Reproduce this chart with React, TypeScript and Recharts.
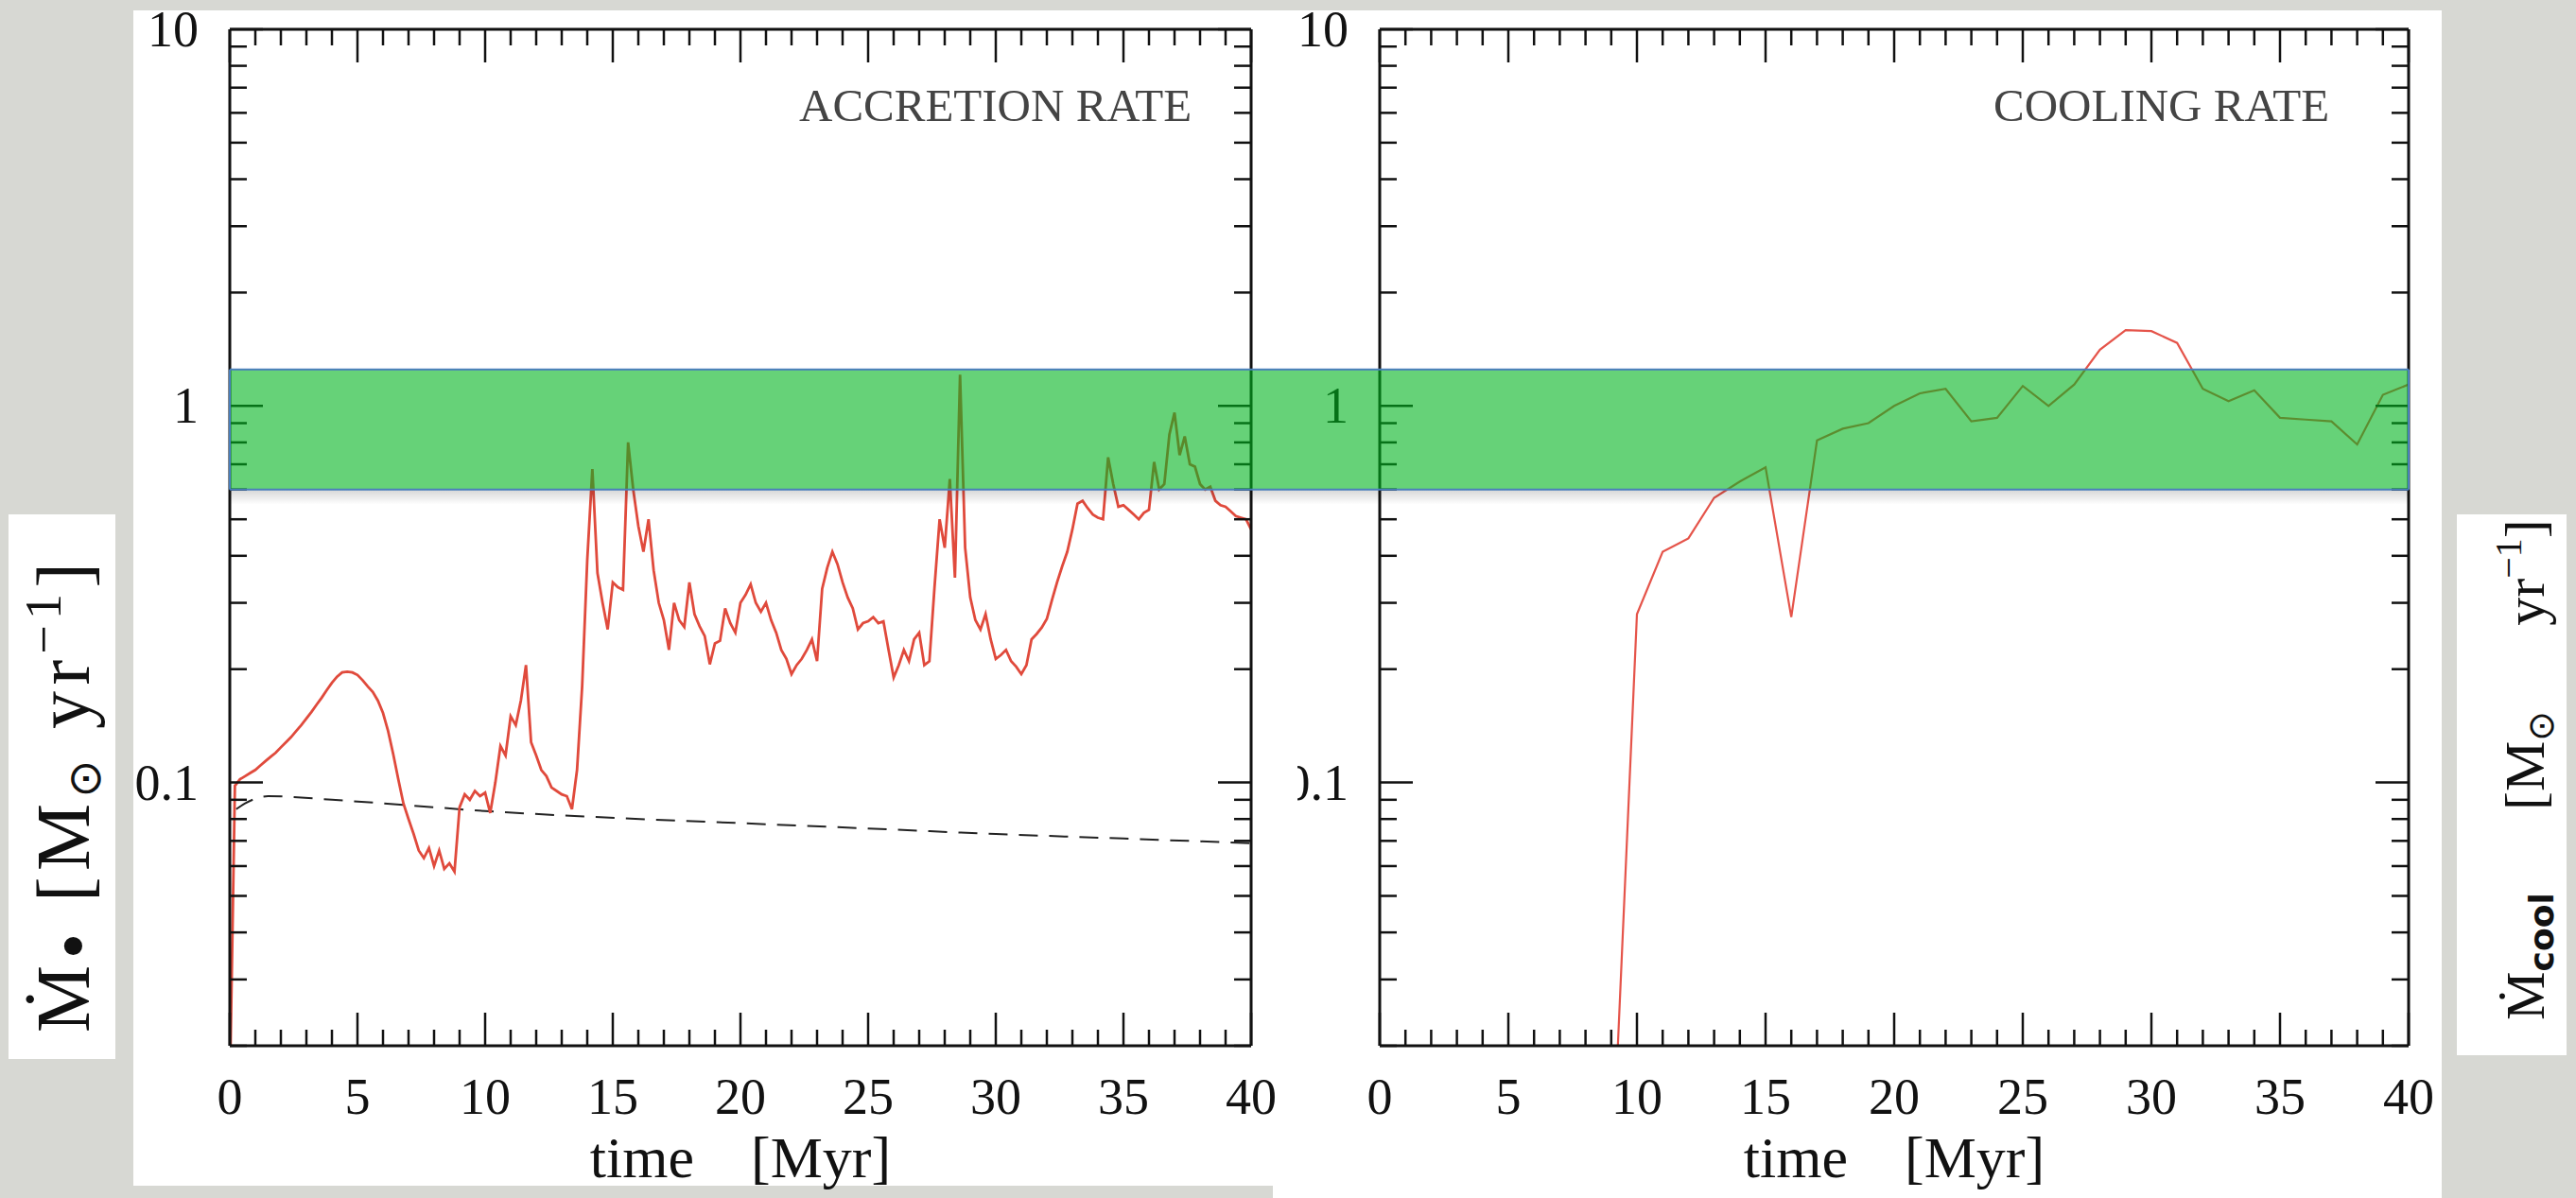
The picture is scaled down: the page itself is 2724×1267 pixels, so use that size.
import React from 'react';
import { LineChart, Line, XAxis, YAxis, ReferenceArea } from 'recharts';

// axis ticks
const xTicks = [0, 1, 2, 3, 4, 5, 6, 7, 8, 9, 10, 11, 12, 13, 14, 15, 16, 17, 18, 19, 20, 21, 22, 23, 24, 25, 26, 27, 28, 29, 30, 31, 32, 33, 34, 35, 36, 37, 38, 39, 40];
const xLabelTicks = [0, 5, 10, 15, 20, 25, 30, 35, 40];
const yTicks = [0.02, 0.03, 0.04, 0.05, 0.06, 0.07, 0.08, 0.09, 0.1, 0.2, 0.3, 0.4, 0.5, 0.6, 0.7, 0.8, 0.9, 1, 2, 3, 4, 5, 6, 7, 8, 9, 10];
const yLabelTicks = [0.1, 1, 10];
const yLabelText = ['0.1', '1', '10'];

// accretion rate (left panel), Msun/yr
const accTime = [
  0, 0.2, 0.4, 0.6, 0.8, 1, 1.2, 1.4, 1.6, 1.8,
  2, 2.2, 2.4, 2.6, 2.8, 3, 3.2, 3.4, 3.6, 3.8,
  4, 4.2, 4.4, 4.6, 4.8, 5, 5.2, 5.4, 5.6, 5.8,
  6, 6.2, 6.4, 6.6, 6.8, 7, 7.2, 7.4, 7.6, 7.8,
  8, 8.2, 8.4, 8.6, 8.8, 9, 9.2, 9.4, 9.6, 9.8,
  10, 10.2, 10.4, 10.6, 10.8, 11, 11.2, 11.4, 11.6, 11.8,
  12, 12.2, 12.4, 12.6, 12.8, 13, 13.2, 13.4, 13.6, 13.8,
  14, 14.2, 14.4, 14.6, 14.8, 15, 15.2, 15.4, 15.6, 15.8,
  16, 16.2, 16.4, 16.6, 16.8, 17, 17.2, 17.4, 17.6, 17.8,
  18, 18.2, 18.4, 18.6, 18.8, 19, 19.2, 19.4, 19.6, 19.8,
  20, 20.2, 20.4, 20.6, 20.8, 21, 21.2, 21.4, 21.6, 21.8,
  22, 22.2, 22.4, 22.6, 22.8, 23, 23.2, 23.4, 23.6, 23.8,
  24, 24.2, 24.4, 24.6, 24.8, 25, 25.2, 25.4, 25.6, 25.8,
  26, 26.2, 26.4, 26.6, 26.8, 27, 27.2, 27.4, 27.6, 27.8,
  28, 28.2, 28.4, 28.6, 28.8, 29, 29.2, 29.4, 29.6, 29.8,
  30, 30.2, 30.4, 30.6, 30.8, 31, 31.2, 31.4, 31.6, 31.8,
  32, 32.2, 32.4, 32.6, 32.8, 33, 33.2, 33.4, 33.6, 33.8,
  34, 34.2, 34.4, 34.6, 34.8, 35, 35.2, 35.4, 35.6, 35.8,
  36, 36.2, 36.4, 36.6, 36.8, 37, 37.2, 37.4, 37.6, 37.8,
  38, 38.2, 38.4, 38.6, 38.8, 39, 39.2, 39.4, 39.6, 39.8,
  40,
];
const accRate = [
  0.015, 0.098, 0.102, 0.104, 0.106, 0.108, 0.111, 0.114, 0.117, 0.12,
  0.124, 0.128, 0.132, 0.137, 0.142, 0.148, 0.154, 0.161, 0.168, 0.176,
  0.184, 0.191, 0.196, 0.197, 0.196, 0.193, 0.187, 0.18, 0.174, 0.165,
  0.153, 0.137, 0.119, 0.102, 0.088, 0.08, 0.073, 0.066, 0.063, 0.067,
  0.06, 0.066, 0.059, 0.061, 0.058, 0.086, 0.093, 0.09, 0.095, 0.092,
  0.094, 0.083, 0.1, 0.125, 0.118, 0.15, 0.142, 0.165, 0.205, 0.128,
  0.118, 0.108, 0.104, 0.097, 0.095, 0.093, 0.092, 0.085, 0.108, 0.18,
  0.39, 0.68, 0.36, 0.3, 0.255, 0.34, 0.33, 0.325, 0.8, 0.6,
  0.48, 0.41, 0.5, 0.366, 0.3, 0.27, 0.225, 0.3, 0.27, 0.259,
  0.34, 0.28, 0.26, 0.245, 0.206, 0.234, 0.238, 0.29, 0.265, 0.25,
  0.3, 0.315, 0.336, 0.3, 0.284, 0.3, 0.27, 0.25, 0.225, 0.213,
  0.194, 0.205, 0.213, 0.225, 0.24, 0.21, 0.327, 0.372, 0.41, 0.38,
  0.34, 0.31, 0.29, 0.255, 0.265, 0.268, 0.275, 0.265, 0.268, 0.225,
  0.19, 0.205, 0.225, 0.21, 0.24, 0.25, 0.205, 0.21, 0.33, 0.5,
  0.42, 0.64, 0.35, 1.21, 0.42, 0.31, 0.27, 0.255, 0.28, 0.24,
  0.213, 0.218, 0.225, 0.21, 0.203, 0.194, 0.205, 0.24, 0.248, 0.258,
  0.272, 0.305, 0.34, 0.375, 0.41, 0.47, 0.55, 0.56, 0.535, 0.515,
  0.505, 0.5, 0.73, 0.62, 0.54, 0.545, 0.53, 0.515, 0.5, 0.52,
  0.53, 0.71, 0.6, 0.62, 0.84, 0.96, 0.74, 0.83, 0.7, 0.69,
  0.62, 0.6, 0.61, 0.56, 0.545, 0.54, 0.525, 0.51, 0.505, 0.5,
  0.47,
];

// dashed reference curve (left panel)
const dashTime = [0.25, 0.6, 1.5, 4, 7, 10, 13.5, 20, 25, 30, 35, 40];
const dashRate = [0.085, 0.088, 0.092, 0.09, 0.087, 0.084, 0.0815, 0.078, 0.0755, 0.073, 0.071, 0.069];

// cooling rate (right panel)
const coolTime = [9, 10, 11, 12, 13, 14, 15, 16, 17, 18, 19, 20, 21, 22, 23, 24, 25, 26, 27, 28, 29, 30, 31, 32, 33, 34, 35, 36, 37, 38, 39, 40];
const coolRate = [0.008, 0.28, 0.41, 0.445, 0.57, 0.63, 0.687, 0.275, 0.81, 0.87, 0.9, 1.0, 1.08, 1.11, 0.91, 0.93, 1.13, 1.0, 1.14, 1.41, 1.59, 1.58, 1.47, 1.11, 1.03, 1.1, 0.93, 0.92, 0.91, 0.79, 1.07, 1.14];

// highlighted band
const bandRange = [0.6, 1.25];

const panelTitles = ['ACCRETION RATE', 'COOLING RATE'];

const accData = accTime.map((t, i) => ({ t, v: accRate[i] }));
const dashData = dashTime.map((t, i) => ({ t, v: dashRate[i] }));
const coolData = coolTime.map((t, i) => ({ t, v: coolRate[i] }));

const serif = '"Liberation Serif", "Times New Roman", "DejaVu Serif", serif';
const ink = '#111';
const axisLine = { stroke: ink, strokeWidth: 3 };

const bottomTick = (props: any) => {
  const { x, y, payload } = props;
  const major = xLabelTicks.includes(payload.value);
  return (
    <g>
      <line x1={x} y1={y} x2={x} y2={y - (major ? 35 : 17)} stroke={ink} strokeWidth={2.5} />
      {major && (
        <text x={x} y={y + 72} textAnchor="middle" fontSize={54} fontFamily={serif} fill={ink}>
          {payload.value}
        </text>
      )}
    </g>
  );
};

const topTick = (props: any) => {
  const { x, y, payload } = props;
  const major = xLabelTicks.includes(payload.value);
  return <line x1={x} y1={y} x2={x} y2={y + (major ? 35 : 17)} stroke={ink} strokeWidth={2.5} />;
};

const leftTick = (props: any) => {
  const { x, y, payload } = props;
  const idx = yLabelTicks.indexOf(payload.value);
  const major = idx >= 0;
  return (
    <g>
      <line x1={x} y1={y} x2={x + (major ? 35 : 18)} y2={y} stroke={ink} strokeWidth={2.5} />
      {major && (
        <text x={x - 33} y={y + 18} textAnchor="end" fontSize={54} fontFamily={serif} fill={ink}>
          {yLabelText[idx]}
        </text>
      )}
    </g>
  );
};

const rightTick = (props: any) => {
  const { x, y, payload } = props;
  const major = yLabelTicks.includes(payload.value);
  return <line x1={x} y1={y} x2={x - (major ? 35 : 18)} y2={y} stroke={ink} strokeWidth={2.5} />;
};

const Band = (props: any) => {
  const { x, y, width, height, extendRight = 0, edge, id } = props;
  const w = width + extendRight;
  const edgeX = edge === 'left' ? x : x + w;
  return (
    <g>
      <defs>
        <linearGradient id={id} x1="0" y1="0" x2="0" y2="1">
          <stop offset="0" stopColor="#000" stopOpacity={0.16} />
          <stop offset="1" stopColor="#000" stopOpacity={0} />
        </linearGradient>
      </defs>
      <rect x={x} y={y + height} width={w} height={16} fill={`url(#${id})`} />
      <rect x={x} y={y} width={w} height={height} fill="#00b41e" fillOpacity={0.6} />
      <line x1={x} y1={y} x2={x + w} y2={y} stroke="#4a7ebb" strokeWidth={2} />
      <line x1={x} y1={y + height} x2={x + w} y2={y + height} stroke="#4a7ebb" strokeWidth={2} />
      <line x1={edgeX} y1={y} x2={edgeX} y2={y + height} stroke="#4a7ebb" strokeWidth={2} />
    </g>
  );
};

// frame: bottom + left carry labels, top + right only inward ticks
const chartAxes = (yWidth: number) => [
  <XAxis
    key="xb"
    dataKey="t"
    type="number"
    domain={[0, 40]}
    allowDataOverflow
    ticks={xTicks}
    interval={0}
    height={161}
    tickSize={0}
    tickMargin={0}
    tickLine={false}
    axisLine={axisLine}
    tick={bottomTick}
  />,
  <XAxis
    key="xt"
    xAxisId="top"
    orientation="top"
    dataKey="t"
    type="number"
    domain={[0, 40]}
    allowDataOverflow
    ticks={xTicks}
    interval={0}
    height={1}
    tickSize={0}
    tickMargin={0}
    tickLine={false}
    axisLine={axisLine}
    tick={topTick}
  />,
  <YAxis
    key="yl"
    type="number"
    scale="log"
    domain={[0.02, 10]}
    allowDataOverflow
    ticks={yTicks}
    interval={0}
    width={yWidth}
    tickSize={0}
    tickMargin={0}
    tickLine={false}
    axisLine={axisLine}
    tick={leftTick}
  />,
  <YAxis
    key="yr"
    yAxisId="right"
    orientation="right"
    type="number"
    scale="log"
    domain={[0.02, 10]}
    allowDataOverflow
    ticks={yTicks}
    interval={0}
    width={1}
    tickSize={0}
    tickMargin={0}
    tickLine={false}
    axisLine={axisLine}
    tick={rightTick}
  />,
];

const App = () => {
  return (
    <div
      style={{
        position: 'absolute',
        left: 0,
        top: 0,
        width: 2724,
        height: 1267,
        background: '#d7d8d3',
        overflow: 'hidden',
      }}
    >
      {/* white slide panels */}
      <div style={{ position: 'absolute', left: 141, top: 11, width: 1205, height: 1243, background: '#fff' }} />
      <div style={{ position: 'absolute', left: 1346, top: 11, width: 1236, height: 1256, background: '#fff' }} />

      {/* right panel: cooling rate */}
      <div style={{ position: 'absolute', left: 1372, top: 0, zIndex: 1 }}>
        <LineChart width={1210} height={1267} margin={{ top: 30, right: 34, bottom: 0, left: 0 }}>
          {chartAxes(87)}
          <Line
            data={coolData}
            dataKey="v"
            type="linear"
            stroke="#e5544a"
            strokeWidth={2.2}
            dot={false}
            isAnimationActive={false}
          />
          <ReferenceArea
            y1={bandRange[0]}
            y2={bandRange[1]}
            ifOverflow="visible"
            zIndex={2000}
            shape={(p: any) => <Band {...p} edge="right" id="shadowR" />}
          />
        </LineChart>
      </div>

      {/* left panel: accretion rate */}
      <div style={{ position: 'absolute', left: 141, top: 0, zIndex: 2 }}>
        <LineChart width={1318} height={1267} margin={{ top: 30, right: 135, bottom: 0, left: 0 }}>
          {chartAxes(102)}
          <Line
            data={dashData}
            dataKey="v"
            type="monotone"
            stroke="#222"
            strokeWidth={2}
            strokeDasharray="20 12"
            dot={false}
            isAnimationActive={false}
          />
          <Line
            data={accData}
            dataKey="v"
            type="linear"
            stroke="#e04a3c"
            strokeWidth={2.8}
            dot={false}
            isAnimationActive={false}
          />
          <ReferenceArea
            y1={bandRange[0]}
            y2={bandRange[1]}
            ifOverflow="visible"
            zIndex={2000}
            shape={(p: any) => <Band {...p} edge="left" extendRight={136} id="shadowL" />}
          />
        </LineChart>
      </div>

      {/* titles, axis names */}
      <svg
        width={2724}
        height={1267}
        style={{ position: 'absolute', left: 0, top: 0, zIndex: 3, pointerEvents: 'none' }}
      >
        <text x={845} y={128} fontSize={49} fontFamily={serif} fill="#444">{panelTitles[0]}</text>
        <text x={2108} y={128} fontSize={49} fontFamily={serif} fill="#444">{panelTitles[1]}</text>

        <text x={783} y={1245} textAnchor="middle" fontSize={62} fontFamily={serif} fill={ink}>
          time<tspan dx={60}>[Myr]</tspan>
        </text>
        <text x={2003} y={1245} textAnchor="middle" fontSize={62} fontFamily={serif} fill={ink}>
          time<tspan dx={60}>[Myr]</tspan>
        </text>

        <rect x={9} y={544} width={113} height={576} fill="#fff" />
        <text
          transform="translate(94, 1092) rotate(-90)"
          fontSize={80}
          fontFamily={serif}
          fill={ink}
          textLength={497}
          lengthAdjust="spacing"
        >
          Ṁ<tspan dy={10} fontSize={80}>•</tspan>
          <tspan dy={-10}> [M</tspan>
          <tspan dy={12} fontSize={48} fontFamily="DejaVu Sans">⊙</tspan>
          <tspan dy={-12}> yr</tspan>
          <tspan dy={-30} fontSize={54}>−1</tspan>
          <tspan dy={30}>]</tspan>
        </text>

        <rect x={2598} y={544} width={116} height={572} fill="#fff" />
        <text transform="translate(2690, 1079) rotate(-90)" fontSize={58} fontFamily={serif} fill={ink}>
          Ṁ<tspan dy={10} fontSize={36} fontWeight="bold" fontFamily="DejaVu Sans">cool</tspan>
        </text>
        <text transform="translate(2690, 857) rotate(-90)" fontSize={60} fontFamily={serif} fill={ink}>
          [M<tspan dy={10} fontSize={38} fontFamily="DejaVu Sans">⊙</tspan>
          <tspan dy={-10} dx={90}>yr</tspan>
          <tspan dy={-24} fontSize={40}>−1</tspan>
          <tspan dy={24}>]</tspan>
        </text>
      </svg>
    </div>
  );
};

export default App;
